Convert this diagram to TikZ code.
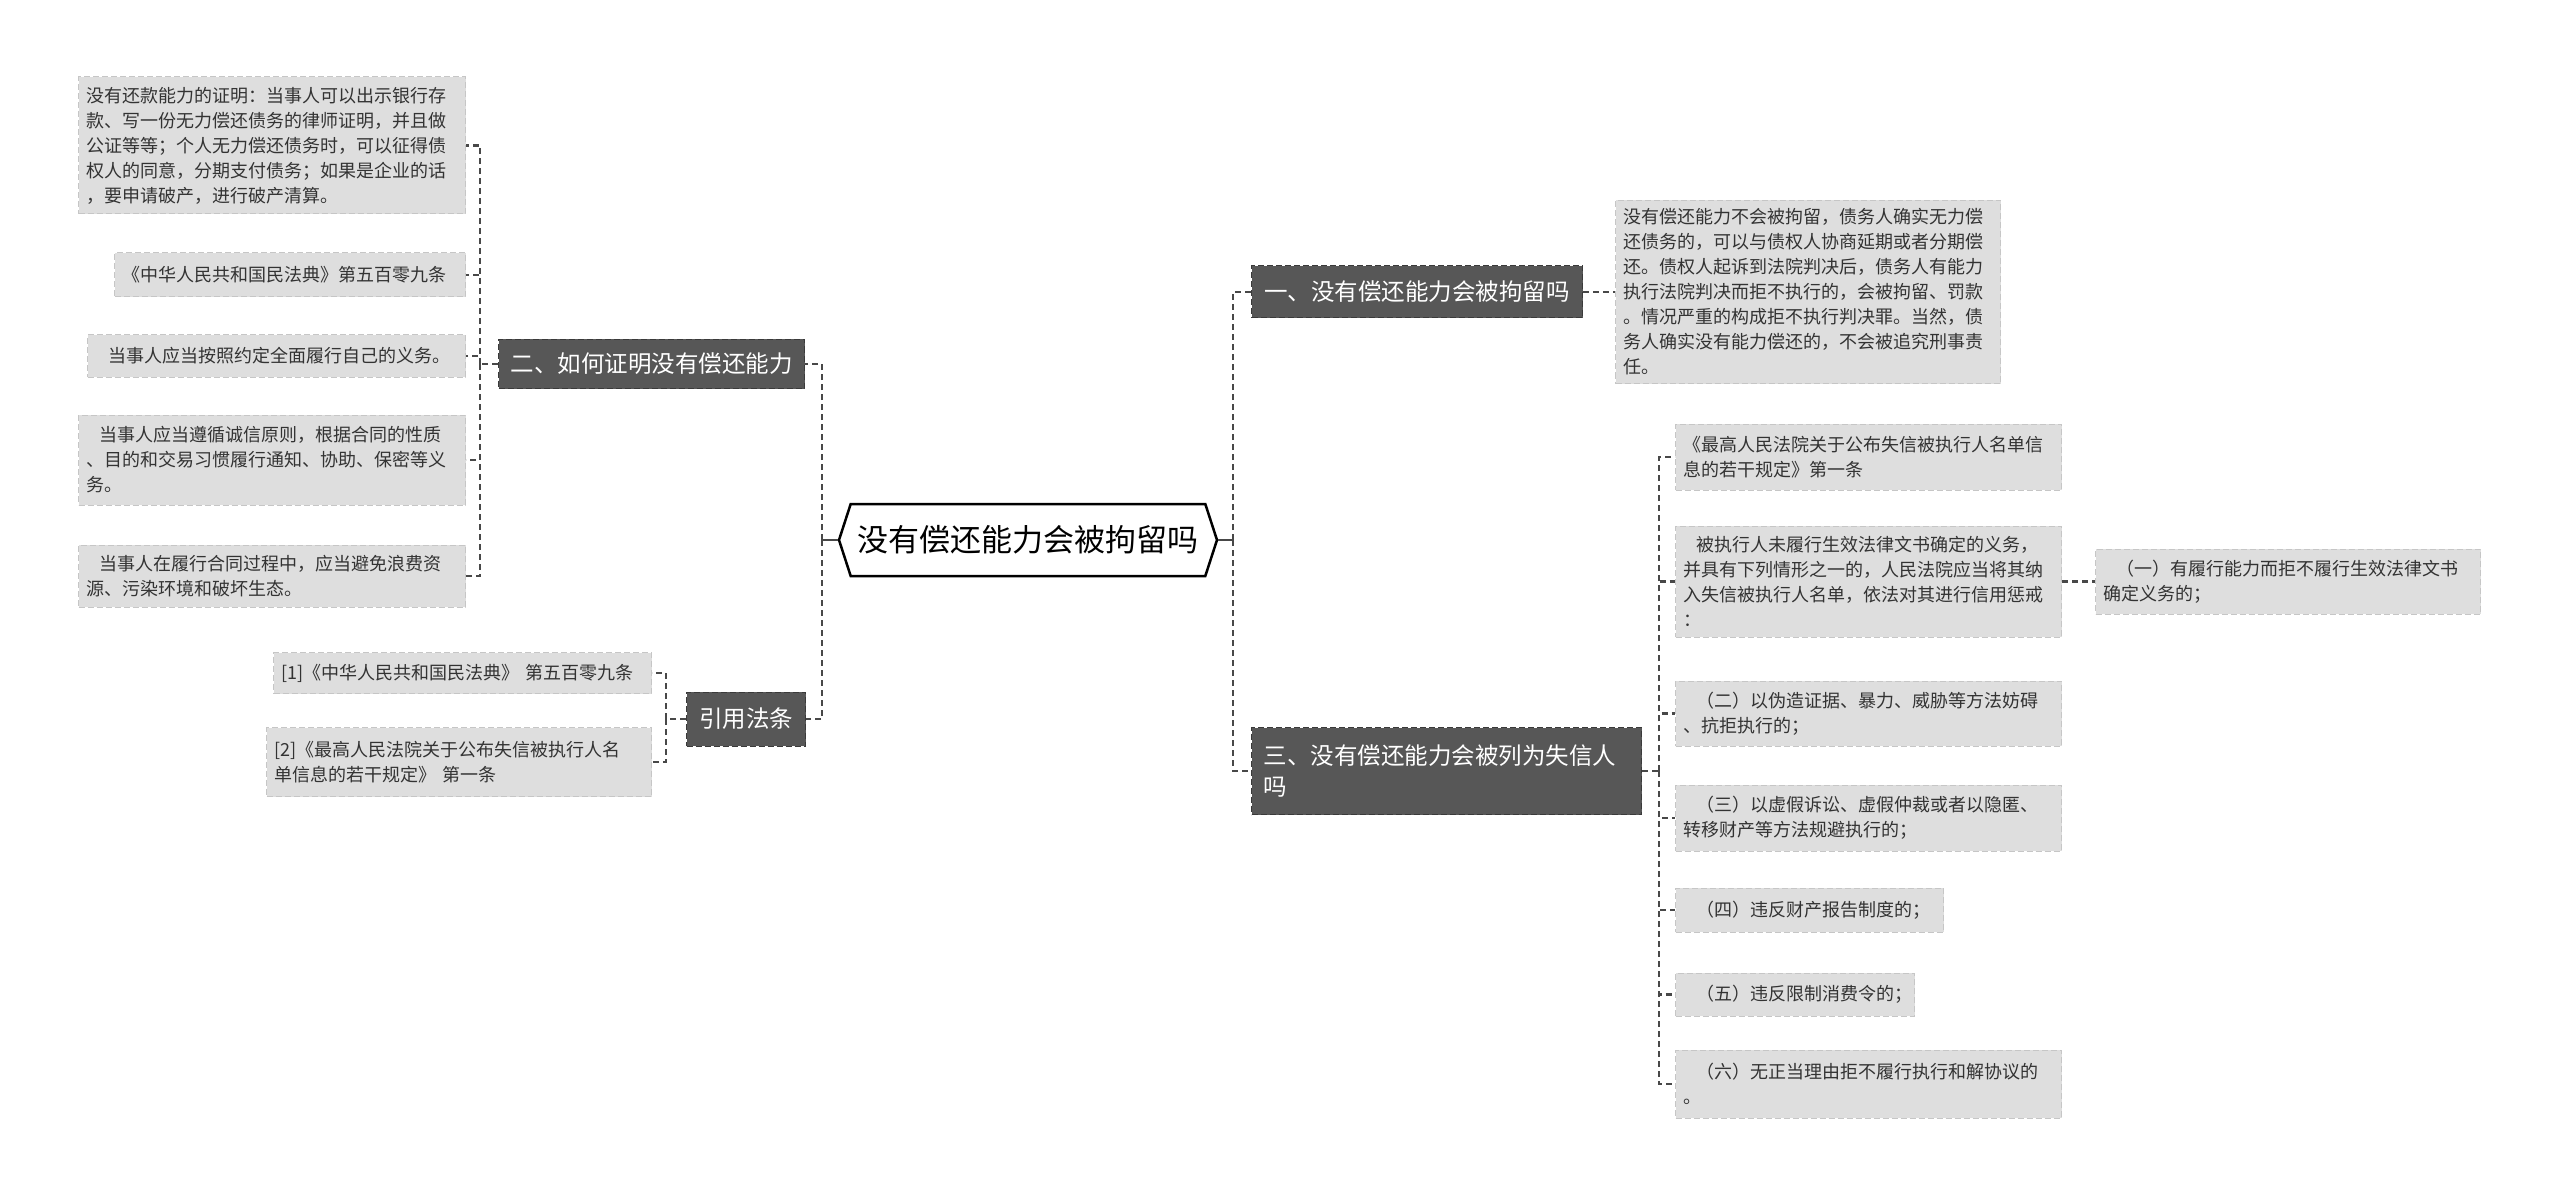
\documentclass[tikz,border=0pt]{standalone}
\usepackage{fontspec}
\setmainfont{Noto Sans CJK SC}
\usetikzlibrary{shapes.symbols,positioning}
\definecolor{leafbg}{HTML}{DEDEDE}
\definecolor{leafline}{HTML}{C6C6C6}
\definecolor{leaftext}{HTML}{333333}
\definecolor{branchbg}{HTML}{575757}
\definecolor{branchline}{HTML}{3A3A3A}
\definecolor{linkcol}{HTML}{484848}
\tikzset{x=1pt,y=-1pt}
\tikzset{
  leaf/.style 2 args={draw=leafline, dash pattern=on 6pt off 3pt, line width=1pt,
    fill=leafbg, text=leaftext, font=\fontsize{18}{25}\selectfont, align=left,
    inner xsep=8pt, inner ysep=2pt, anchor=west, text width=#1, minimum height=#2},
  branch/.style={draw=branchline, dash pattern=on 6pt off 3pt, line width=1pt,
    fill=branchbg, text=white, font=\fontsize{23.5}{31}\selectfont,
    inner xsep=12pt, inner ysep=2pt, anchor=west},
  link/.style={draw=linkcol, dash pattern=on 6pt off 4pt, line width=2.2pt},
  stub/.style={draw=linkcol, line width=2.4pt},
}
\newcommand{\ind}{\hspace*{0.7em}}
\begin{document}
\begin{tikzpicture}
  \useasboundingbox[fill=white] (0,0) rectangle (2560,1198);
  % root
  \node[signal, signal to=west and east, signal pointer angle=144, draw=black,
    line width=2.5pt, fill=white, minimum width=378pt, minimum height=72pt,
    inner xsep=4pt, font=\fontsize{31}{36}\selectfont] (root) at (1028,540)
    {没有偿还能力会被拘留吗};
  % main branches
  \node[branch, minimum width=305pt, minimum height=49pt] (b2) at (498,364)
    {二、如何证明没有偿还能力};
  \node[branch, minimum width=119pt, minimum height=54pt] (b3) at (686,719)
    {引用法条};
  \node[branch, minimum width=331pt, minimum height=52pt] (b1) at (1251,292)
    {一、没有偿还能力会被拘留吗};
  \node[branch, text width=366pt, align=left, minimum height=87pt] (b4) at (1251,771)
    {三、没有偿还能力会被列为失信人\\吗};
  % left leaves
  \node[leaf={371pt}{137pt}] (p1) at (78,145.5)
    {没有还款能力的证明：当事人可以出示银行存\\款、写一份无力偿还债务的律师证明，并且做\\公证等等；个人无力偿还债务时，可以征得债\\权人的同意，分期支付债务；如果是企业的话\\，要申请破产，进行破产清算。};
  \node[leaf={335pt}{44pt}] (p2) at (114,275)
    {《中华人民共和国民法典》第五百零九条};
  \node[leaf={362pt}{42pt}] (p3) at (87,356)
    {\ind 当事人应当按照约定全面履行自己的义务。};
  \node[leaf={371pt}{90pt}] (p4) at (78,460)
    {\ind 当事人应当遵循诚信原则，根据合同的性质\\、目的和交易习惯履行通知、协助、保密等义\\务。};
  \node[leaf={371pt}{62pt}] (p5) at (78,576)
    {\ind 当事人在履行合同过程中，应当避免浪费资\\源、污染环境和破坏生态。};
  \node[leaf={362pt}{41pt}] (r1) at (273,673)
    {[1]《中华人民共和国民法典》 第五百零九条};
  \node[leaf={369pt}{69pt}] (r2) at (266,762)
    {[2]《最高人民法院关于公布失信被执行人名\\单信息的若干规定》 第一条};
  % right leaves
  \node[leaf={369pt}{183pt}] (c1) at (1615,292)
    {没有偿还能力不会被拘留，债务人确实无力偿\\还债务的，可以与债权人协商延期或者分期偿\\还。债权人起诉到法院判决后，债务人有能力\\执行法院判决而拒不执行的，会被拘留、罚款\\。情况严重的构成拒不执行判决罪。当然，债\\务人确实没有能力偿还的，不会被追究刑事责\\任。};
  \node[leaf={370pt}{66pt}] (s1) at (1675,457)
    {《最高人民法院关于公布失信被执行人名单信\\息的若干规定》第一条};
  \node[leaf={370pt}{111pt}] (s2) at (1675,581.5)
    {\ind 被执行人未履行生效法律文书确定的义务，\\并具有下列情形之一的，人民法院应当将其纳\\入失信被执行人名单，依法对其进行信用惩戒\\：};
  \node[leaf={370pt}{65pt}] (s3) at (1675,713.5)
    {\ind （二）以伪造证据、暴力、威胁等方法妨碍\\、抗拒执行的；};
  \node[leaf={370pt}{66pt}] (s4) at (1675,818)
    {\ind （三）以虚假诉讼、虚假仲裁或者以隐匿、\\转移财产等方法规避执行的；};
  \node[leaf={252pt}{44pt}] (s5) at (1675,910)
    {\ind （四）违反财产报告制度的；};
  \node[leaf={223pt}{43pt}] (s6) at (1675,994.5)
    {\ind （五）违反限制消费令的；};
  \node[leaf={370pt}{68pt}] (s7) at (1675,1084)
    {\ind （六）无正当理由拒不履行执行和解协议的\\。};
  \node[leaf={369pt}{65pt}] (t1) at (2095,581.5)
    {\ind （一）有履行能力而拒不履行生效法律文书\\确定义务的；};
  % connectors
  \coordinate (jL) at (822,540);
  \coordinate (jR) at (1233,540);
  \draw[stub] (root.west) -- (jL);
  \draw[stub] (root.east) -- (jR);
  \draw[link] (jL) |- (b2.east);
  \draw[link] (jL) |- (b3.east);
  \draw[link] (jR) |- (b1.west);
  \draw[link] (jR) |- (b4.west);
  \coordinate (j2) at (480,364);
  \draw[link] (b2.west) -- (j2);
  \foreach \n in {p1,p2,p3,p4,p5}
    \draw[link] (j2) |- (\n.east);
  \coordinate (j3) at (666,719);
  \draw[link] (b3.west) -- (j3);
  \foreach \n in {r1,r2}
    \draw[link] (j3) |- (\n.east);
  \draw[link] (b1.east) -- (c1.west);
  \coordinate (j4) at (1659,771);
  \draw[link] (b4.east) -- (j4);
  \foreach \n in {s1,s2,s3,s4,s5,s6,s7}
    \draw[link] (j4) |- (\n.west);
  \draw[link] (s2.east) -- (t1.west);
\end{tikzpicture}
\end{document}
